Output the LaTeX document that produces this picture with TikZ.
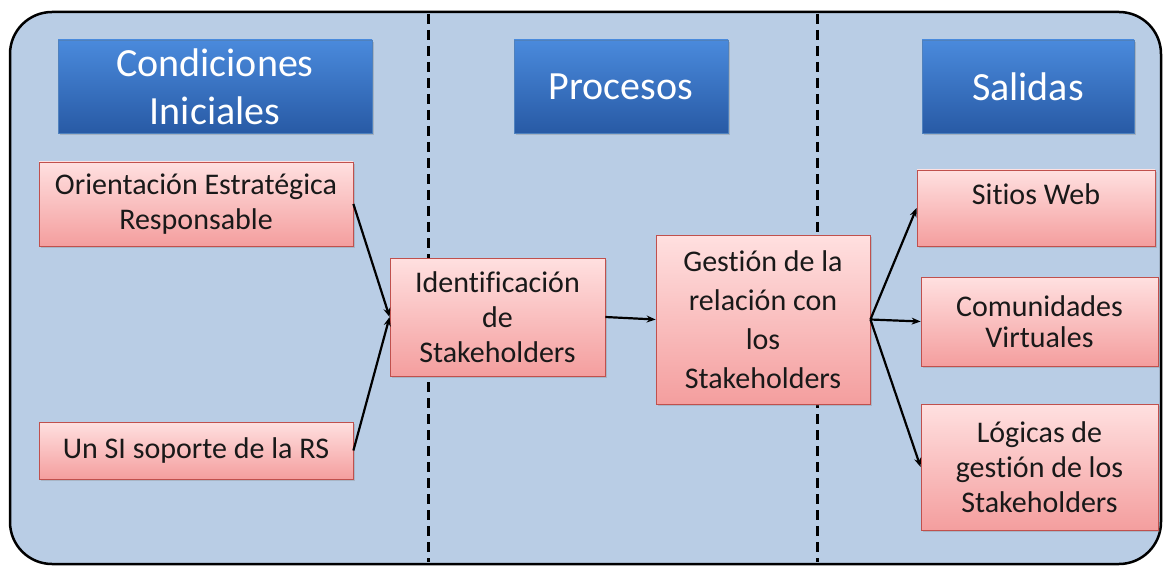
\documentclass[tikz,border=0pt]{standalone}
\usepackage{fontspec}
\setmainfont{Carlito}[Ligatures=CommonOff]
\usepackage{tikz}
\usetikzlibrary{arrows.meta,shadows}

\definecolor{panelblue}{RGB}{185,205,229}
\definecolor{headtop}{RGB}{74,138,220}
\definecolor{headbot}{RGB}{40,90,165}
\definecolor{headline}{RGB}{79,129,189}
\definecolor{boxtop}{RGB}{255,224,224}
\definecolor{boxbot}{RGB}{244,158,158}
\definecolor{boxline}{RGB}{192,80,77}

\begin{document}
\begin{tikzpicture}[x=1pt, y=-1pt,
	header/.style={draw=headline, line width=0.8pt, top color=headtop, bottom color=headbot,
		text=white, align=center, inner sep=0pt, font=\fontsize{40}{48}\selectfont,
		drop shadow={opacity=0.35, shadow xshift=2pt, shadow yshift=-2pt}},
	item/.style={draw=boxline, line width=0.8pt, top color=boxtop, bottom color=boxbot,
		text=black!90, align=center, inner sep=0pt, font=\fontsize{30}{35}\selectfont,
		drop shadow={opacity=0.3, shadow xshift=2pt, shadow yshift=-2pt}},
	link/.style={-{Stealth[length=9pt,width=7pt]}, line width=2.2pt}]
	\useasboundingbox (0,0) rectangle (1163,567);
	\draw[fill=panelblue, line width=2.5pt, rounded corners=42pt] (10,12) rectangle (1161,564);
	\foreach \x in {428,817} {
		\draw[line width=3pt, dash pattern=on 10pt off 6pt] (\x,14) -- (\x,562);
	}
	
	\node[header, minimum width=314pt, minimum height=93pt] (cond) at (215,86.5) {Condiciones\\Iniciales};
	\node[header, minimum width=214pt, minimum height=93pt] (proc) at (621,86.5) {Procesos};
	\node[header, minimum width=212pt, minimum height=93pt] (sal) at (1028,86.5) {Salidas};
	
	\node[item, minimum width=314pt, minimum height=84pt] (orient) at (196,204) {Orientación Estratégica\\Responsable};
	\node[item, minimum width=314pt, minimum height=57pt] (unsi) at (196,450.5) {Un SI soporte de la RS};
	\node[item, minimum width=215pt, minimum height=118pt] (ident) at (497.5,317) {Identificación\\de\\Stakeholders};
	\node[item, minimum width=214pt, minimum height=169pt, font=\fontsize{30}{39}\selectfont] (gest) at (763,319.5) {Gestión de la\\relación con\\los\\Stakeholders};
	\node[item, minimum width=238pt, minimum height=76pt] (sitios) at (1036,208) {Sitios Web\\[-8pt]\mbox{}};
	\node[item, minimum width=237pt, minimum height=89pt, font=\fontsize{30}{31}\selectfont] (comun) at (1039.5,321.5) {Comunidades\\Virtuales};
	\node[item, minimum width=237pt, minimum height=126pt] (logic) at (1039.5,467) {Lógicas de\\gestión de los\\Stakeholders};
	
	\draw[link] (orient.east) -- (ident.west);
	\draw[link] (unsi.east) -- (ident.west);
	\draw[link] (ident.east) -- (gest.west);
	\foreach \dest in {sitios,comun,logic} {
		\draw[link] (gest.east) -- (\dest.west);
	}
\end{tikzpicture}
\end{document}
